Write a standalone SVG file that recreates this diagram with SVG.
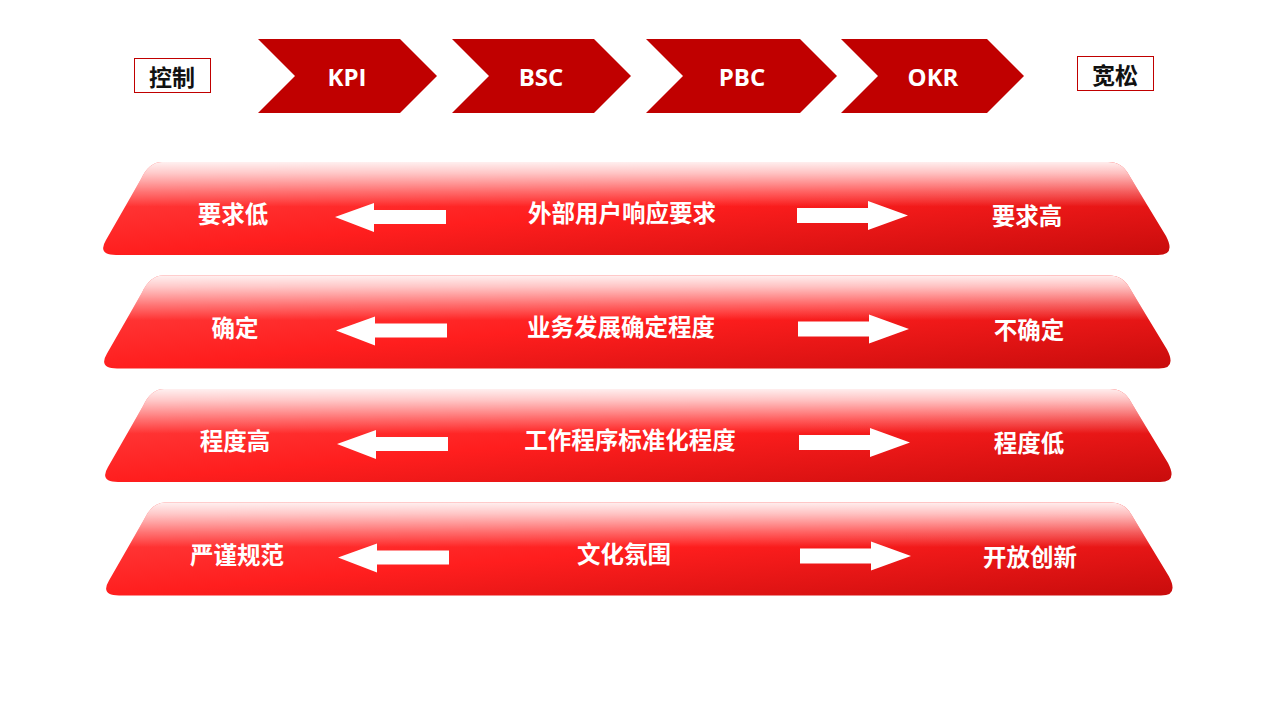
<svg xmlns="http://www.w3.org/2000/svg" width="1280" height="720" viewBox="0 0 1280 720">
<defs>
<linearGradient id="base" x1="0" y1="0" x2="1" y2="1">
<stop offset="0" stop-color="#ff4848"/>
<stop offset="0.5" stop-color="#ff1e1e"/>
<stop offset="1" stop-color="#c80c0c"/>
</linearGradient>
<linearGradient id="gloss" x1="0" y1="0" x2="0" y2="1">
<stop offset="0" stop-color="#ffffff" stop-opacity="0.92"/>
<stop offset="0.12" stop-color="#ffffff" stop-opacity="0.72"/>
<stop offset="0.32" stop-color="#ffffff" stop-opacity="0.3"/>
<stop offset="0.48" stop-color="#ffffff" stop-opacity="0"/>
<stop offset="1" stop-color="#ffffff" stop-opacity="0"/>
</linearGradient>
<path id="bandShape" d="M 162 162 L 1108 162 Q 1122 162 1129 175 L 1166 236 Q 1176 255 1158 255 L 116 255 Q 97 255 106 240 L 141 179 Q 149 162 162 162 Z"/>
<polygon id="arrL" points="335,217 374,203 374,210 446,210 446,224 374,224 374,232"/>
<polygon id="arrR" points="908,215.5 868,201 868,208 797,208 797,223 868,223 868,230"/>
</defs>
<style>
.chev{fill:#c00000}
.ct{font-family:"Open Sans","Liberation Sans",sans-serif;font-weight:bold;font-size:24px;fill:#ffffff;text-anchor:middle;dominant-baseline:central}
.box{fill:#ffffff;stroke:#c00000;stroke-width:1}
.bt{font-family:"Noto Sans CJK SC",sans-serif;font-weight:bold;font-size:23px;fill:#111111;text-anchor:middle;dominant-baseline:central}
.lt{font-family:"Noto Sans CJK SC",sans-serif;font-weight:bold;font-size:23.5px;fill:#ffffff;text-anchor:middle;dominant-baseline:central}
.arr{fill:#ffffff}
</style>
<rect width="1280" height="720" fill="#ffffff"/>
<g id="box-control"><rect class="box" x="134.5" y="58.5" width="76" height="34"/><text class="bt" x="172" y="76">控制</text></g>
<g id="box-loose"><rect class="box" x="1077.5" y="56.5" width="76" height="34"/><text class="bt" x="1115" y="74">宽松</text></g>
<g id="chev-kpi"><polygon class="chev" points="258,39 400,39 437,76 400,113 258,113 295,76"/><text class="ct" x="347" y="76">KPI</text></g>
<g id="chev-bsc"><polygon class="chev" points="452,39 594,39 631,76 594,113 452,113 489,76"/><text class="ct" x="541" y="76">BSC</text></g>
<g id="chev-pbc"><polygon class="chev" points="646,39 800,39 837,76 800,113 646,113 683,76"/><text class="ct" x="742" y="76">PBC</text></g>
<g id="chev-okr"><polygon class="chev" points="841,39 987,39 1024,76 987,113 841,113 878,76"/><text class="ct" x="933" y="76">OKR</text></g>
<g id="band1">
<use href="#bandShape" fill="url(#base)"/><use href="#bandShape" fill="url(#gloss)"/>
<text class="lt" x="233" y="213">要求低</text><text class="lt" x="622" y="212">外部用户响应要求</text><text class="lt" x="1027" y="215">要求高</text>
</g>
<g id="band2" transform="translate(1,113.5)">
<use href="#bandShape" fill="url(#base)"/><use href="#bandShape" fill="url(#gloss)"/>
<text class="lt" x="234" y="213">确定</text><text class="lt" x="620" y="212">业务发展确定程度</text><text class="lt" x="1028" y="215">不确定</text>
</g>
<g id="band3" transform="translate(2,227)">
<use href="#bandShape" fill="url(#base)"/><use href="#bandShape" fill="url(#gloss)"/>
<text class="lt" x="233" y="213">程度高</text><text class="lt" x="628" y="212">工作程序标准化程度</text><text class="lt" x="1027" y="215">程度低</text>
</g>
<g id="band4" transform="translate(3,340.5)">
<use href="#bandShape" fill="url(#base)"/><use href="#bandShape" fill="url(#gloss)"/>
<text class="lt" x="234" y="213">严谨规范</text><text class="lt" x="621" y="212">文化氛围</text><text class="lt" x="1027" y="215">开放创新</text>
</g>
<g id="connectors" class="arr">
<use href="#arrL"/><use href="#arrR"/>
<use href="#arrL" transform="translate(1,113.5)"/><use href="#arrR" transform="translate(1,113.5)"/>
<use href="#arrL" transform="translate(2,227)"/><use href="#arrR" transform="translate(2,227)"/>
<use href="#arrL" transform="translate(3,340.5)"/><use href="#arrR" transform="translate(3,340.5)"/>
</g>
</svg>
